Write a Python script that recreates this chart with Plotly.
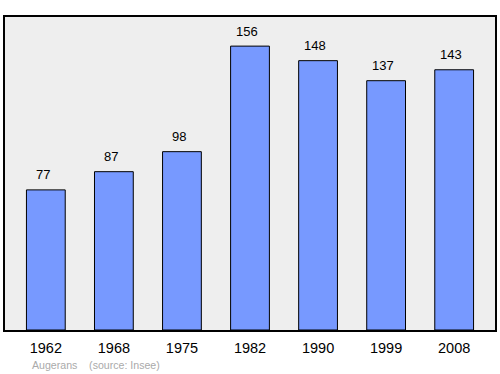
import plotly.graph_objects as go

years = ["1962", "1968", "1975", "1982", "1990", "1999", "2008"]
population = [77, 87, 98, 156, 148, 137, 143]
source_text = "Augerans    (source: Insee)"

fig = go.Figure()
fig.add_trace(go.Bar(
    x=list(range(len(years))), y=population, width=0.57,
    marker=dict(color="#7799ff", line=dict(color="#000000", width=1)),
    hoverinfo="skip",
))
for i, v in enumerate(population):
    fig.add_annotation(x=i, y=v, text=str(v), showarrow=False, yshift=15, xshift=-3,
                       font=dict(family="Liberation Sans, Arial", size=13, color="#000"))
fig.add_annotation(xref="paper", yref="paper", x=0, y=0, xanchor="left", yanchor="top",
                   xshift=25, yshift=-27, text=source_text, showarrow=False,
                   font=dict(family="Liberation Sans, Arial", size=10.6, color="#aaaaaa"))
fig.update_layout(
    width=500, height=374,
    margin=dict(l=5, r=3, t=17, b=44),
    paper_bgcolor="white", plot_bgcolor="#eeeeee",
    showlegend=False,
    xaxis=dict(range=[-0.6, 6.6], tickmode="array", tickvals=list(range(len(years))), ticktext=years,
               showgrid=False, zeroline=False, showline=True, mirror=True, linecolor="#000", linewidth=1.5,
               ticks="", ticklabelstandoff=4,
               tickfont=dict(family="Liberation Sans, Arial", size=14.5, color="#000")),
    yaxis=dict(range=[0, 172], showgrid=False, zeroline=False, showticklabels=False,
               showline=True, mirror=True, linecolor="#000", linewidth=1.5, ticks=""),
)
fig.write_html("out.html")
